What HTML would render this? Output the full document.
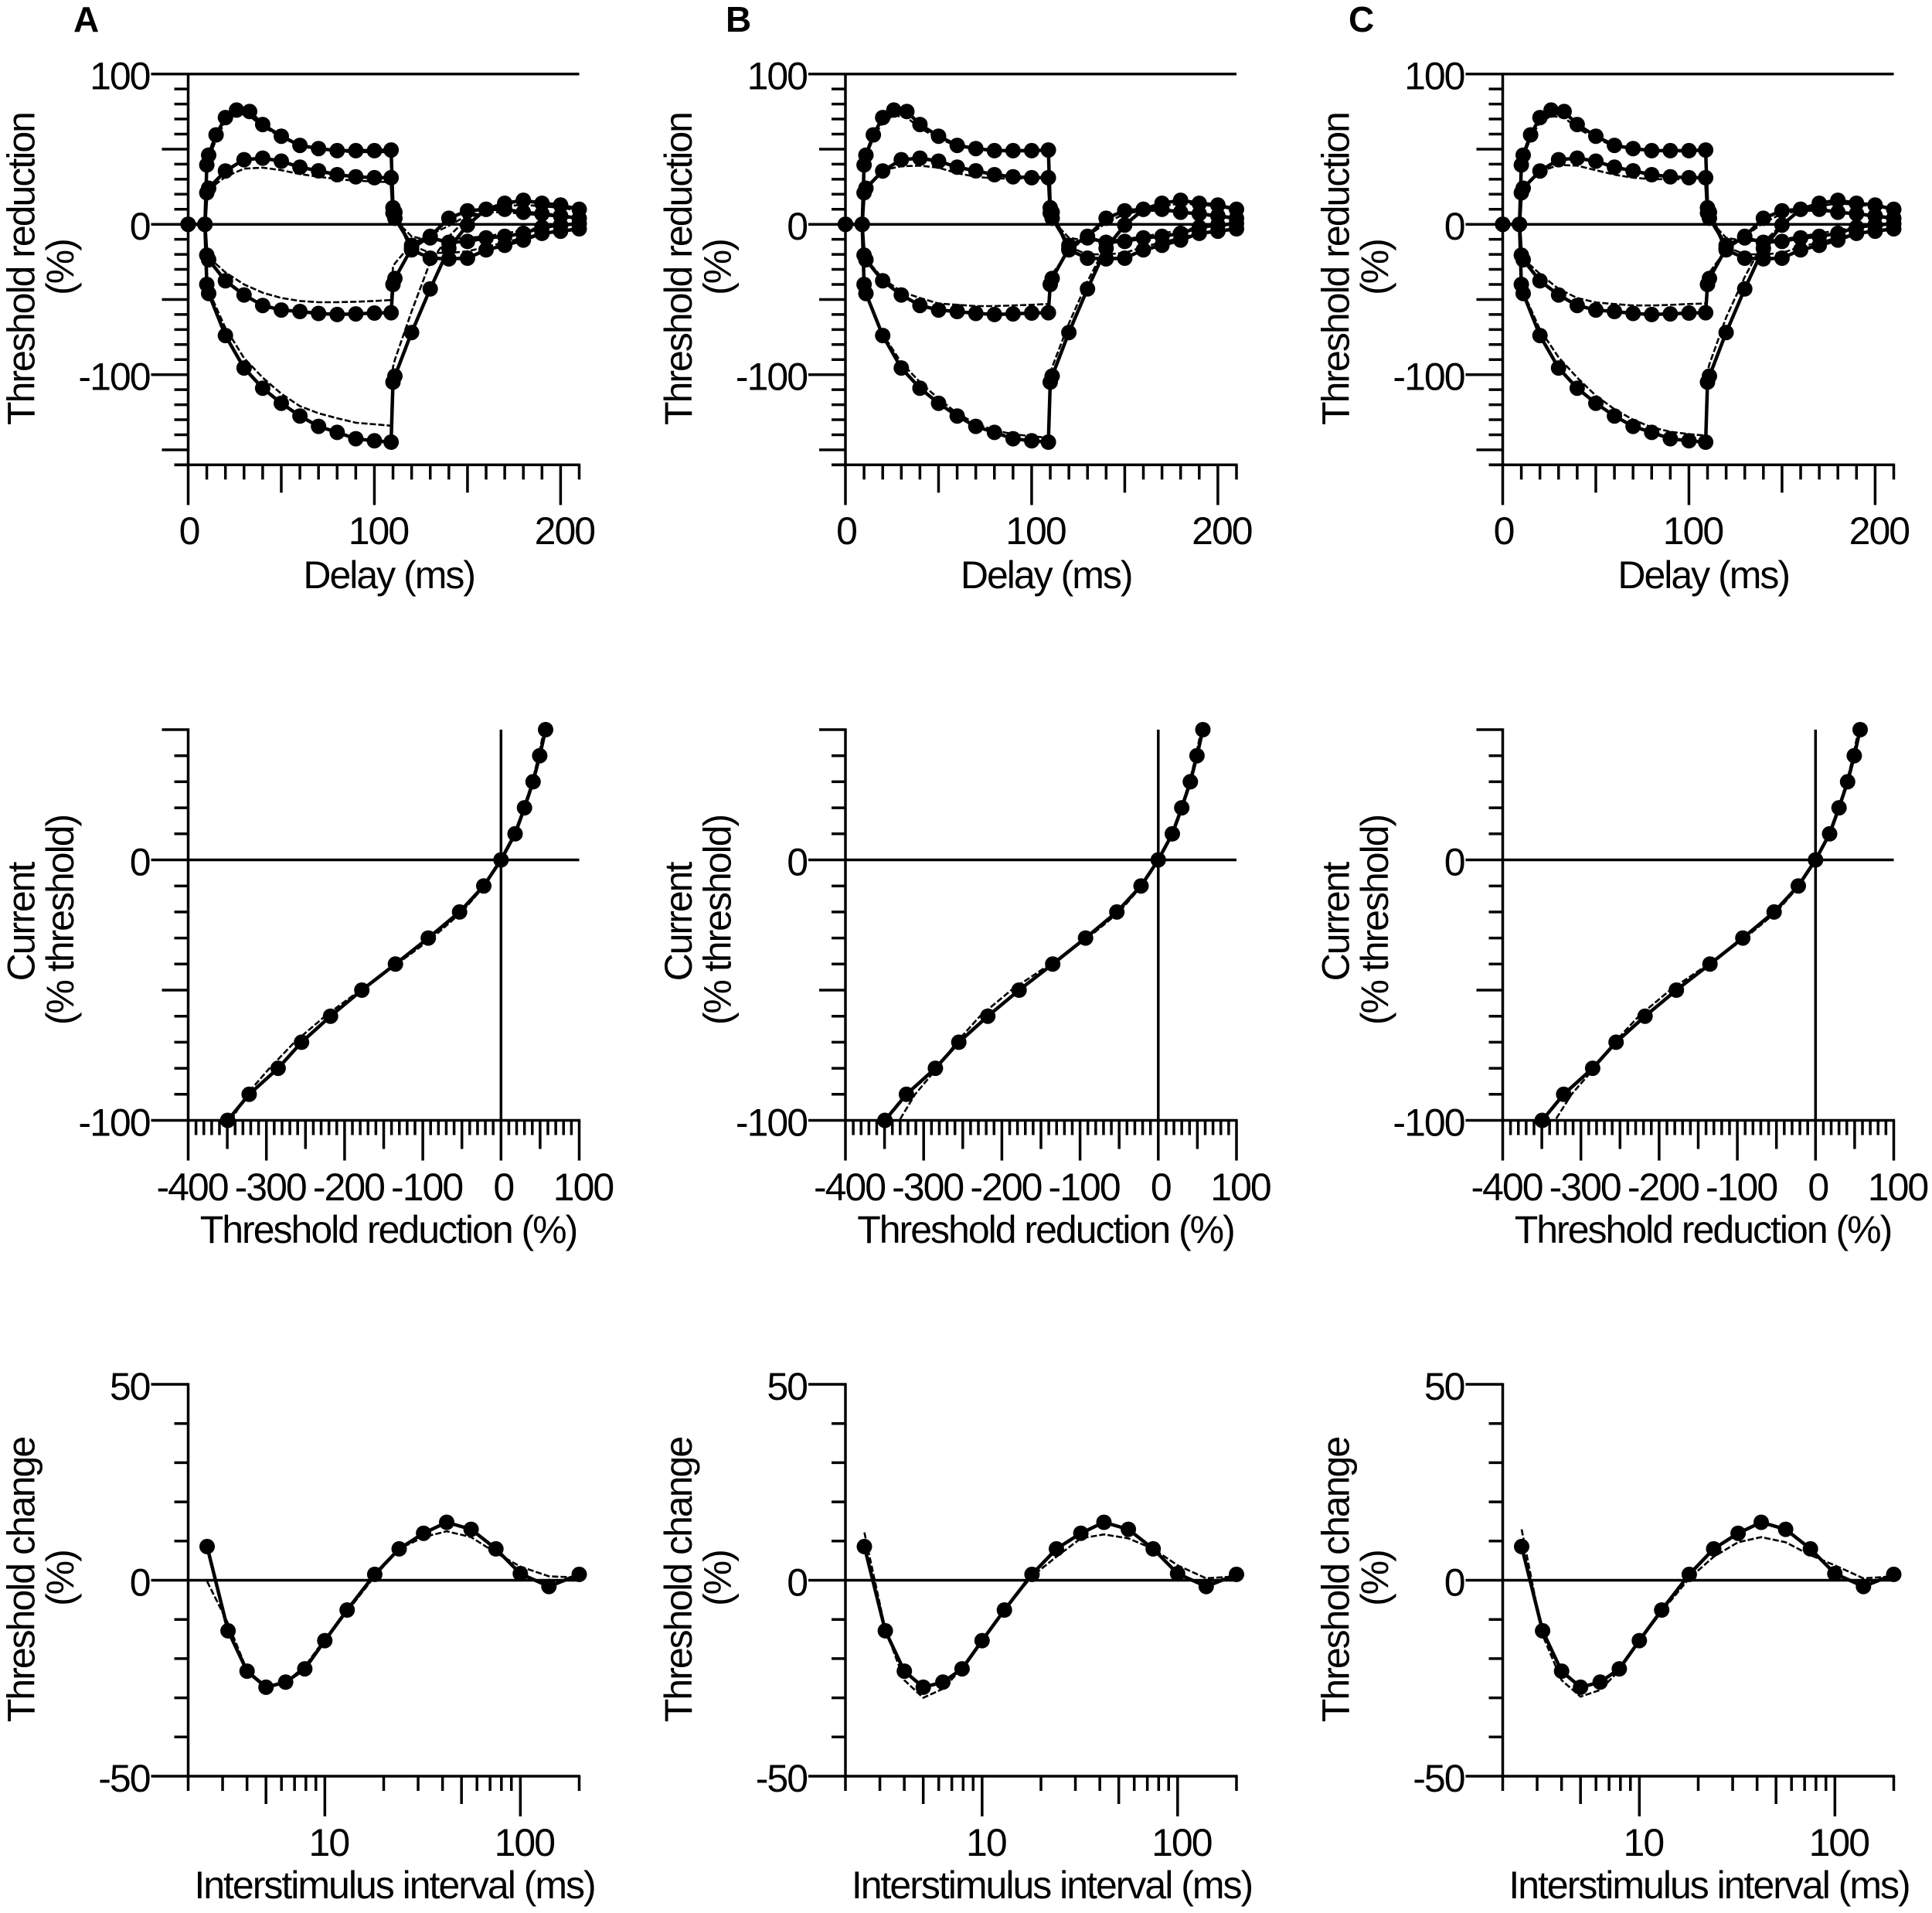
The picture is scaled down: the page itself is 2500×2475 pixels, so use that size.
<!DOCTYPE html>
<html lang="en">
<head>
<meta charset="utf-8">
<title>Threshold tracking panels</title>
<style>
  html, body { margin: 0; padding: 0; background: #fff; }
  #figure { display: block; width: 2500px; height: 2475px; background: #fff; }
  text { font-family: "Liberation Sans", Arial, sans-serif; fill: #000; }
</style>
</head>
<body>
<svg id="figure" xmlns="http://www.w3.org/2000/svg" width="2500" height="2475" viewBox="0 0 2500 2475"></svg>
<script>
// ---------- shared data ----------
const panelLetters = ['A', 'B', 'C'];

const delayDense = [0,9,10,11,15,20,26,33,40,50,60,70,80,90,100,109,110,111,120,130,140,150,160,170,180,190,200,210];
const delaySparse = [0,9,10,11,20,30,40,50,60,70,80,90,100,109,110,111,120,130,140,150,160,170,180,190,200,210];

const depol40 = [0,0,39.5,46,59.5,71,76,75,66.4,58.6,52.5,50.4,49,49,49,49.4,11,8,-17,-22.5,-23,-22.5,-17,-14,-10.5,-6,-4.6,-3];
const depol20 = [0,0,21,24,35.5,43,44,42,38,35.6,33,31.6,31,31,7.5,4,-14,-9,-12,-11.4,-9,-8,-6,-2,-0.5,0.5];
const hyper20 = [0,0,-20.5,-23.6,-37.6,-47,-54,-57,-58,-59.3,-60,-59.6,-59,-58.8,-40,-36,-16,-8,4,9,10,10,8,7,5.6,4];
const hyper40 = [0,0,-40,-46,-74,-95.6,-109,-119,-127.5,-134.4,-138.4,-142.6,-144,-144.9,-105,-101,-72,-43,-16,-0.5,10,14,16,14,12.8,10];

const fitDepol40A = [0,0,38,44,56,69,73,72,65,58,52,50,48.5,48,48,48,9,6,-14,-19,-19,-18,-15,-12,-9,-6,-4,-3];
const fitDepol40B = [0,0,38,45,57,68,72.5,71,64,57,52,50,48.5,48.5,48.5,49,10,7,-15,-20,-20,-19,-15,-12,-9,-6,-4,-3];
const fitDepol40C = [0,0,38,45,57,68,72,71,64,57,52,50,48.5,48.5,48.5,49,10,7,-15,-20,-20,-19,-15,-12,-9,-6,-4,-3];
const fitDepol20A = [0,0,20,23,31.6,37,37.7,36,33.4,31.6,30,29,28.5,28,5,3,-8,-11,-10,-9,-8,-6,-4,-2,-1,0];
const fitDepol20B = [0,0,20,24,36,38.6,39,37.7,34,31.6,30.5,30.5,30.5,30.5,6,3,-9,-11,-11,-10,-8,-6,-4,-2,-1,0];
const fitDepol20C = [0,0,20,24,35,39.5,39,36,33,31,30,30,30,30,6,3,-9,-11,-11,-10,-8,-6,-4,-2,-1,0];
const fitHyper20A = [0,0,-20,-22,-32,-40,-45.5,-49,-51,-51.8,-51.8,-51.5,-51,-50.4,-28,-26,-13,-7,-1,6,8,8,7,6,5,3.5];
const fitHyper20B = [0,0,-20,-23,-36,-44.8,-49,-52.7,-53.5,-54.4,-54.4,-54,-53.5,-53,-36,-33,-18,-8,1,7,9,9,8,6.5,5,3.5];
const fitHyper20C = [0,0,-20,-23,-33,-43,-49,-52,-53,-54,-54,-53.6,-53,-52.7,-35,-32,-17,-8,1,7,9,9,8,6.5,5,3.5];
const fitHyper40A = [0,0,-38,-44,-69,-89,-102,-112.7,-121,-125.7,-129,-132,-133,-134,-95,-90,-58,-25,-8,4,9,12,13,12,11,9];
const fitHyper40B = [0,0,-39,-45,-73,-92,-105,-116,-125.7,-132.6,-137,-139.6,-141,-142,-100,-95,-66,-38,-14,-1,9,12,14,13,12,9.5];
const fitHyper40C = [0,0,-39,-45,-70,-88.5,-102,-114,-123,-130,-135,-138,-139.6,-140.5,-98,-93,-62,-35,-12,0,9,12,14,13,12,9.5];

const currentLevels = [50,40,30,20,10,0,-10,-20,-30,-40,-50,-60,-70,-80,-90,-100];
const ivReduction = [57,49.5,41,30,18,0,-22,-53,-93,-135,-178,-218,-255,-285,-322,-349.5];
const ivFitA = [55,48,40,29,17,0,-21,-50,-88,-133,-180,-225,-264,-296,-325,-345];
const ivFitB = [55,48,40,29,17,0,-21,-50,-90,-138,-188,-228,-258,-283,-311,-331];
const ivFitC = [55,48,40,29,17,0,-21,-50,-90,-137,-186,-226,-257,-283,-312,-333];

const isiValues = [2.5,3.2,4,5,6.3,7.9,10,13,18,24,32,42,56,75,100,140,200];
const recovery = [8.6,-12.9,-23.2,-27.3,-26,-22.6,-15.4,-7.6,1.5,8,12,14.8,13,8,1.7,-1.6,1.5];
const recFitA = [-0.3,-11,-23,-27,-26,-22,-15,-8,1,8,11,12.5,11,7,3.5,1,0.7];
const recFitB = [12.2,-12.5,-25.5,-30,-27.7,-22.5,-15.5,-7.5,1,6,10.7,11.7,10.7,8,3.8,0.5,1];
const recFitC = [13,-14,-25.5,-29.7,-28,-23,-15.5,-8,0.5,6,9.7,11,9.7,6.4,3.8,0.5,1];

const delayTickLabels = [0,100,200];
const ivTickLabels = [-400,-300,-200,-100,0,100];
const isiTickLabels = [10,100];
const isiShortTicks = [2,3,4,6,7,8,9,20,30,40,60,70,80,90,200];
const isiMediumTicks = [5,50];
const isiLongTicks = [10,100];

const delayTitle = 'Delay (ms)';
const ivTitle = 'Threshold reduction (%)';
const isiTitle = 'Interstimulus interval (ms)';
const row1YTitle = ['Threshold reduction', '(%)'];
const row2YTitle = ['Current', '(% threshold)'];
const row3YTitle = ['Threshold change', '(%)'];
const row1YLabels = [100,0,-100];
const row2YLabels = [0,-100];
const row3YLabels = [50,0,-50];

const fitSetsDelay = [
  [fitDepol40A, fitDepol20A, fitHyper20A, fitHyper40A],
  [fitDepol40B, fitDepol20B, fitHyper20B, fitHyper40B],
  [fitDepol40C, fitDepol20C, fitHyper20C, fitHyper40C]
];
const fitSetsIv = [ivFitA, ivFitB, ivFitC];
const fitSetsRec = [recFitA, recFitB, recFitC];

// ---------- drawing helpers ----------
const NS = 'http://www.w3.org/2000/svg';
const root = document.getElementById('figure');
const AXIS_W = 3.5, LINE_W = 4.5, FIT_W = 2.6, DOT_R = 10;
const PLOT_W = 506;
const FONT = 50, SPACING = -2;

function linear(d0, d1, r0, r1) {
  return function (v) { return r0 + (v - d0) * (r1 - r0) / (d1 - d0); };
}
function logScale(d0, d1, r0, r1) {
  return function (v) { return r0 + (Math.log10(v) - Math.log10(d0)) * (r1 - r0) / (Math.log10(d1) - Math.log10(d0)); };
}
function makeGroup(parent, name) {
  const g = document.createElementNS(NS, 'g');
  
  
  parent.appendChild(g);
  return g;
}
function rule(parent, name, x1, y1, x2, y2) {
  const l = document.createElementNS(NS, 'line');
  
  
  l.setAttribute('x1', x1);
  l.setAttribute('y1', y1);
  l.setAttribute('x2', x2);
  l.setAttribute('y2', y2);
  l.setAttribute('stroke', '#000');
  l.setAttribute('stroke-width', AXIS_W);
  parent.appendChild(l);
}
function label(parent, name, str, x, y, anchor, size, weight, rotate, spacing) {
  const t = document.createElementNS(NS, 'text');
  
  
  t.setAttribute('x', x);
  t.setAttribute('y', y);
  t.setAttribute('text-anchor', anchor);
  t.setAttribute('font-size', size);
  t.setAttribute('font-weight', weight);
  t.setAttribute('letter-spacing', spacing);
  if (rotate) t.setAttribute('transform', 'rotate(-90 ' + x + ' ' + y + ')');
  t.textContent = str;
  parent.appendChild(t);
}
function series(parent, name, xs, ys, sx, sy, isFit, withDots) {
  const p = document.createElementNS(NS, 'polyline');
  
  
  p.setAttribute('points', xs.map(function (x, i) { return sx(x).toFixed(1) + ',' + sy(ys[i]).toFixed(1); }).join(' '));
  p.setAttribute('fill', 'none');
  p.setAttribute('stroke', '#000');
  p.setAttribute('stroke-linejoin', 'round');
  p.setAttribute('stroke-width', isFit ? FIT_W : LINE_W);
  if (isFit) p.setAttribute('stroke-dasharray', '8 3');
  parent.appendChild(p);
  if (!withDots) return;
  xs.forEach(function (x, i) {
    const c = document.createElementNS(NS, 'circle');
    
    
    c.setAttribute('cx', sx(x).toFixed(1));
    c.setAttribute('cy', sy(ys[i]).toFixed(1));
    c.setAttribute('r', DOT_R);
    c.setAttribute('fill', '#000');
    parent.appendChild(c);
  });
}
function yAxis(g, axisX, sy, top, bottom, step, mediumVals, majorVals) {
  rule(g, 'y-axis-line', axisX, sy(top) - 1.6, axisX, sy(bottom) + 1.6);
  for (let v = top; v >= bottom; v -= step) {
    let len = 18;
    if (mediumVals.indexOf(v) >= 0) len = 34;
    if (majorVals.indexOf(v) >= 0) len = 48;
    rule(g, 'y-axis-tick', axisX - len, sy(v), axisX, sy(v));
  }
}
function yLabels(g, axisX, sy, vals) {
  vals.forEach(function (v) {
    label(g, 'y-tick-label', String(v), axisX - 50, sy(v) + 20, 'end', FONT, 'normal', false, SPACING);
  });
}
function yTitle(g, axisX, lines, cy1, cy2) {
  label(g, 'y-axis-title', lines[0], axisX - 199, cy1, 'middle', FONT, 'normal', true, SPACING);
  label(g, 'y-axis-title-unit', lines[1], axisX - 148.5, cy2, 'middle', FONT, 'normal', true, SPACING);
}

// ---------- panels ----------
const axisLeft = [243.5, 1094, 1944.5];
const letterLeft = [95, 939, 1745];

panelLetters.forEach(function (letter, idx) {
  const ax = axisLeft[idx];
  const col = makeGroup(root, 'panel-' + letter.toLowerCase());
  label(col, 'panel-letter', letter, letterLeft[idx], 41, 'start', 46, 'bold', false, 0);

  // Row 1: threshold electrotonus
  const g1 = makeGroup(col, 'delay-chart');
  const x1 = linear(0, 210, ax, ax + PLOT_W);
  const y1 = linear(0, 100, 290.2, 95.7);
  rule(g1, 'reference-line-100', ax, y1(100), x1(210), y1(100));
  rule(g1, 'zero-line', ax, y1(0), x1(210), y1(0));
  yAxis(g1, ax, y1, 100, -160, 10, [50, -50, -150], [100, 0, -100]);
  rule(g1, 'x-axis-line', ax - 18, y1(-160), x1(210) + 1.6, y1(-160));
  for (let v = 0; v <= 210; v += 10) {
    let len = 19;
    if (v % 50 === 0) len = 36;
    if (v % 100 === 0) len = 52;
    rule(g1, 'x-axis-tick', x1(v), y1(-160), x1(v), y1(-160) + len);
  }
  yLabels(g1, ax, y1, row1YLabels);
  delayTickLabels.forEach(function (v) {
    label(g1, 'x-tick-label', String(v), x1(v) + (v === 0 ? 1 : 5), 704, 'middle', FONT, 'normal', false, SPACING);
  });
  label(g1, 'x-axis-title', delayTitle, ax + 259.7, 761, 'middle', FONT, 'normal', false, SPACING);
  yTitle(g1, ax, row1YTitle, 348, 346);
  const fits = fitSetsDelay[idx];
  series(g1, 'depolarizing-40', delayDense, depol40, x1, y1, false, true);
  series(g1, 'depolarizing-20', delaySparse, depol20, x1, y1, false, true);
  series(g1, 'hyperpolarizing-20', delaySparse, hyper20, x1, y1, false, true);
  series(g1, 'hyperpolarizing-40', delaySparse, hyper40, x1, y1, false, true);
  series(g1, 'fit-depolarizing-40', delayDense, fits[0], x1, y1, true, false);
  series(g1, 'fit-depolarizing-20', delaySparse, fits[1], x1, y1, true, false);
  series(g1, 'fit-hyperpolarizing-20', delaySparse, fits[2], x1, y1, true, false);
  series(g1, 'fit-hyperpolarizing-40', delaySparse, fits[3], x1, y1, true, false);

  // Row 2: current-threshold relationship
  const g2 = makeGroup(col, 'current-threshold-chart');
  const x2 = linear(-400, 100, ax, ax + PLOT_W);
  const y2 = linear(-100, 50, 1449.5, 944);
  rule(g2, 'zero-line-horizontal', ax, y2(0), x2(100), y2(0));
  rule(g2, 'zero-line-vertical', x2(0), y2(50), x2(0), y2(-100));
  yAxis(g2, ax, y2, 50, -100, 10, [50, -50], [0, -100]);
  rule(g2, 'x-axis-line', ax, y2(-100), x2(100) + 1.6, y2(-100));
  for (let v = -400; v <= 100; v += 10) {
    let len = 19;
    if (v % 50 === 0) len = 37;
    if (v % 100 === 0) len = 52;
    rule(g2, 'x-axis-tick', x2(v), y2(-100), x2(v), y2(-100) + len);
  }
  yLabels(g2, ax, y2, row2YLabels);
  ivTickLabels.forEach(function (v) {
    label(g2, 'x-tick-label', String(v), x2(v) + (v === 0 ? 3 : 5), 1553, 'middle', FONT, 'normal', false, SPACING);
  });
  label(g2, 'x-axis-title', ivTitle, ax + 259, 1608, 'middle', FONT, 'normal', false, SPACING);
  yTitle(g2, ax, row2YTitle, 1193, 1190.5);
  series(g2, 'current-threshold', ivReduction, currentLevels, x2, y2, false, true);
  series(g2, 'fit-current-threshold', fitSetsIv[idx], currentLevels, x2, y2, true, false);

  // Row 3: recovery cycle
  const g3 = makeGroup(col, 'recovery-cycle-chart');
  const x3 = logScale(2, 200, ax, ax + PLOT_W);
  const y3 = linear(-50, 50, 2298, 1791);
  rule(g3, 'zero-line', ax, y3(0), x3(200), y3(0));
  yAxis(g3, ax, y3, 50, -50, 10, [], [50, 0, -50]);
  rule(g3, 'x-axis-line', ax, y3(-50), x3(200) + 1.6, y3(-50));
  isiShortTicks.forEach(function (v) {
    rule(g3, 'x-axis-tick', x3(v), y3(-50), x3(v), y3(-50) + 19);
  });
  isiMediumTicks.forEach(function (v) {
    rule(g3, 'x-axis-tick', x3(v), y3(-50), x3(v), y3(-50) + 36);
  });
  isiLongTicks.forEach(function (v) {
    rule(g3, 'x-axis-tick', x3(v), y3(-50), x3(v), y3(-50) + 52);
  });
  yLabels(g3, ax, y3, row3YLabels);
  isiTickLabels.forEach(function (v) {
    label(g3, 'x-tick-label', String(v), x3(v) + 5, 2401, 'middle', FONT, 'normal', false, SPACING);
  });
  label(g3, 'x-axis-title', isiTitle, ax + 267, 2456, 'middle', FONT, 'normal', false, SPACING);
  yTitle(g3, ax, row3YTitle, 2044, 2042);
  series(g3, 'recovery-cycle', isiValues, recovery, x3, y3, false, true);
  series(g3, 'fit-recovery-cycle', isiValues, fitSetsRec[idx], x3, y3, true, false);
});
</script>
</body>
</html>
